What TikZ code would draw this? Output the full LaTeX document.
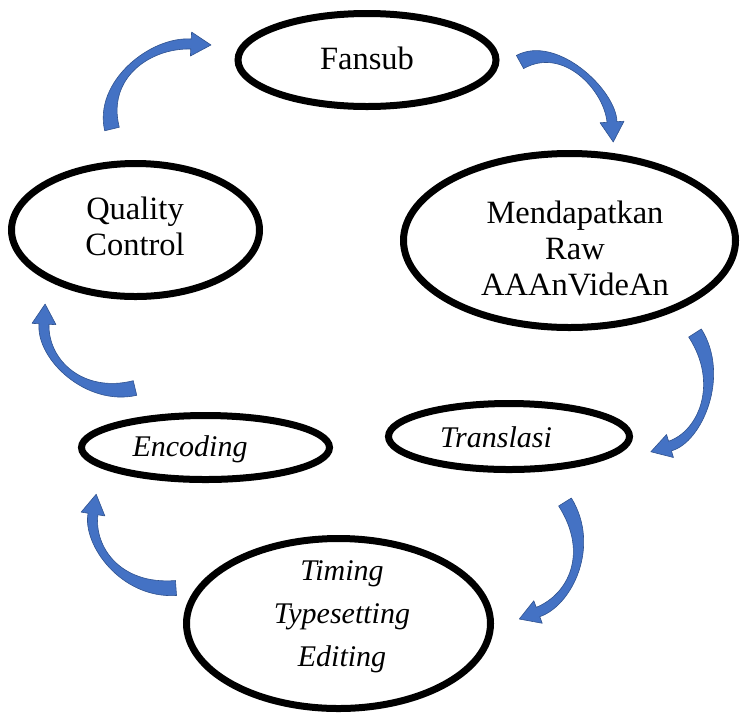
\documentclass[tikz,border=0pt]{standalone}
\usepackage{fontspec}
\setmainfont{Liberation Serif}
\usetikzlibrary{shapes.geometric,calc}
\definecolor{arrfill}{RGB}{68,114,196}
\definecolor{arredge}{RGB}{47,82,143}
\tikzset{
  ell/.style={ellipse, draw=black, line width=7pt, inner sep=0pt},
  lbl/.style={align=center, font=\fontsize{32.5}{36}\selectfont, inner sep=0pt},
  ilbl/.style={align=center, font=\fontsize{30}{36}\selectfont\itshape, inner sep=0pt},
  arrowfill/.style={fill=arrfill, draw=arredge, line width=0.6pt, line join=round}
}
\newcommand\bluearrow[4]{%
  \path (#1) coordinate (bT) (#2) coordinate (bA) (#3) coordinate (bB) (#4) coordinate (bE);
  \filldraw[arrowfill] ($(bT)!7.5pt!90:(bA)$) .. controls ($(bA)!7pt!-90:(bT)$) and ($(bB)!6pt!90:(bE)$) .. ($(bE)!5pt!-90:(bB)$)
    -- ($(bE)!12pt!-90:(bB)$) -- ($(bE)!-20pt!(bB)$) -- ($(bE)!12pt!90:(bB)$) -- ($(bE)!5pt!90:(bB)$)
    .. controls ($(bB)!6pt!-90:(bE)$) and ($(bA)!7pt!90:(bT)$) .. ($(bT)!7.5pt!-90:(bA)$) -- cycle;
}
\begin{document}
\begin{tikzpicture}[x=1pt,y=-1pt]
\useasboundingbox (0,0) rectangle (743,721);
% ellipses
\node[ell, minimum width=258pt, minimum height=93pt] (fansub) at (367,60) {};
\node[ell, minimum width=332pt, minimum height=174pt] (raw) at (569.5,240.5) {};
\node[ell, minimum width=248pt, minimum height=133pt] (qc) at (135.5,230) {};
\node[ell, minimum width=248pt, minimum height=64pt] (enc) at (205.5,447.5) {};
\node[ell, minimum width=241pt, minimum height=66pt] (trans) at (509,436.5) {};
\node[ell, minimum width=304pt, minimum height=170pt] (timing) at (338.5,623.5) {};
% labels
\node[lbl] (tfansub) at (367,58) {Fansub};
\node[lbl] (traw) at (575,248) {Mendapatkan\\Raw\\AAAnVideAn};
\node[lbl] (tqc) at (135,226) {Quality\\Control};
\node[ilbl] (tenc) at (190,449) {Encoding};
\node[ilbl] (ttrans) at (496,437) {Translasi};
\node[ilbl, font=\fontsize{30}{43}\selectfont\itshape] (ttiming) at (342,617) {Timing\\Typesetting\\Editing};
% curved block arrows
\bluearrow{112,129}{100,80}{150,42}{191,44}
\bluearrow{520,62}{560,40}{610,90}{612,122}
\bluearrow{695,333}{725,380}{700,437}{670,446}
\bluearrow{135,388}{85,400}{42,360}{44,324}
\bluearrow{565,502}{595,550}{570,600}{538,612}
\bluearrow{176,588}{120,592}{88,545}{93,514}
\end{tikzpicture}
\end{document}
